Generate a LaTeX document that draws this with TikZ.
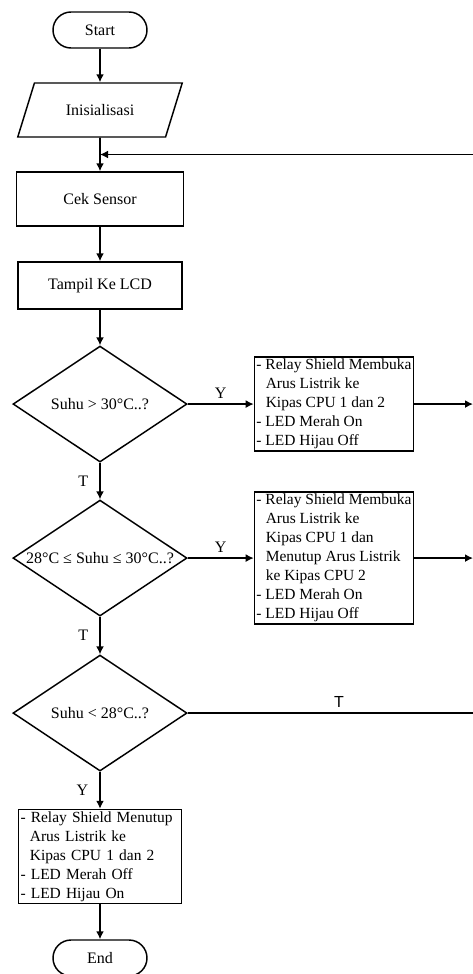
\documentclass[tikz,border=0pt]{standalone}
\usepackage{fontspec}
\setmainfont{Liberation Serif}
\newfontfamily\arialfont{Liberation Sans}
\usetikzlibrary{shapes,arrows,arrows.meta}
\usetikzlibrary{calc}

\newcommand{\lanjut}{\hspace*{7pt}}

\tikzset{
  terminal/.style={rectangle, rounded corners=13.5pt, draw=black, line width=1.1pt, minimum width=70.5pt, minimum height=27pt},
  io/.style={trapezium, trapezium left angle=64, trapezium right angle=116, trapezium stretches=true, draw=black, line width=1.1pt, minimum width=123.75pt, minimum height=40.5pt},
  process/.style={rectangle, draw=black, line width=1.1pt, minimum width=125.25pt, minimum height=40.5pt},
  decision/.style={diamond, draw=black, line width=1.1pt, minimum width=130.5pt, minimum height=87pt, inner sep=0pt},
  action/.style={rectangle, draw=black, line width=1.1pt, inner sep=1.5pt, align=left,
    font=\fontsize{11.6pt}{14.25pt}\selectfont},
  line/.style={line width=1.2pt, -{Latex[length=6pt,width=6pt]}}
}

\begin{document}
\begin{tikzpicture}[x=0.75pt, y=-0.75pt, font=\fontsize{12pt}{14.25pt}\selectfont]
\useasboundingbox (0,0) rectangle (473,974);
\coordinate (edge) at (473,0);

\node[terminal] (start) at (100,30) {Start};
\node[io, node distance=60pt, below of=start] (init) {Inisialisasi};
\node[process, node distance=66.75pt, below of=init] (cek) {Cek Sensor};
\node[process, node distance=64.9pt, below of=cek, minimum width=123pt, minimum height=35.25pt] (lcd) {Tampil Ke LCD};
\node[decision, node distance=88.9pt, below of=lcd, label=center:{Suhu > 30°C..?}] (cek30) {};
\node[action, node distance=175.5pt, right of=cek30] (aksi1) {- Relay Shield Membuka\\\lanjut Arus Listrik ke\\\lanjut Kipas CPU 1 dan 2\\- LED Merah On\\- LED Hijau Off};
\node[decision, node distance=115.5pt, below of=cek30, label=center:{28°C ≤ Suhu ≤ 30°C..?}] (cek2830) {};
\node[action, node distance=175.5pt, right of=cek2830] (aksi2) {- Relay Shield Membuka\\\lanjut Arus Listrik ke\\\lanjut Kipas CPU 1 dan\\\lanjut Menutup Arus Listrik\\\lanjut ke Kipas CPU 2\\- LED Merah On\\- LED Hijau Off};
\node[decision, node distance=116.25pt, below of=cek2830, label=center:{Suhu < 28°C..?}] (cek28) {};
\node[action, node distance=107.6pt, below of=cek28, text width=119.25pt] (aksi3) {- Relay Shield Menutup\\\lanjut Arus Listrik ke\\\lanjut Kipas CPU 1 dan 2\\- LED Merah Off\\- LED Hijau On};
\node[terminal, node distance=76.1pt, below of=aksi3] (end) {End};

% alur utama
\draw[line] (start) -- (init);
\draw[line] (init) -- (cek);
\draw[line] (cek) -- (lcd);
\draw[line] (lcd) -- (cek30);
\draw[line] (cek30) -- node[above] {Y} (aksi1);
\draw[line] (cek30) -- node[left=5pt] {T} (cek2830);
\draw[line] (cek2830) -- node[above] {Y} (aksi2);
\draw[line] (cek2830) -- node[left=5pt] {T} (cek28);
\draw[line] (cek28) -- node[left=5pt] {Y} (aksi3);
\draw[line] (aksi3) -- (end);

% kembali ke cek sensor
\draw[line] (aksi1) -- (aksi1 -| edge);
\draw[line] (aksi2) -- (aksi2 -| edge);
\draw[line width=1.2pt] (cek28) -- node[above, pos=.53, font=\arialfont\fontsize{12pt}{14pt}\selectfont] {T} (cek28 -| edge);
\coordinate (gabung) at ($(init.south)!.5!(cek.north)$);
\draw[line] (gabung -| edge) -- (gabung);
\end{tikzpicture}
\end{document}
